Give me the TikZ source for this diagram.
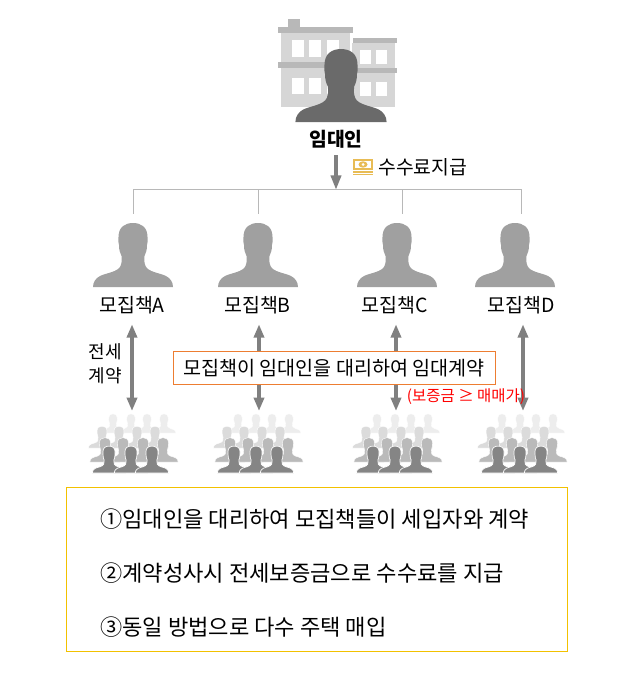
\documentclass[tikz,border=0pt]{standalone}
\usepackage{fontspec}
\setmainfont{Noto Sans CJK KR}
\usetikzlibrary{arrows.meta}
\definecolor{agentgray}{HTML}{A0A0A0}
\definecolor{ownergray}{HTML}{6A6A6A}
\definecolor{housegray}{HTML}{D6D6D6}
\definecolor{roofgray}{HTML}{B8B8B8}
\definecolor{boxorange}{HTML}{ED7D31}
\definecolor{boxyellow}{HTML}{F2C100}
\definecolor{moneygold}{HTML}{E8BC55}
\tikzset{
  person/.pic={
    \path[pic actions] (-40,0) .. controls (-40,-5) and (-37,-9) .. (-33,-11)
      .. controls (-27,-14) and (-15,-15) .. (-12.5,-21)
      .. controls (-11,-25) and (-11,-28) .. (-11.5,-31)
      .. controls (-13,-34) and (-14,-37) .. (-14,-42)
      .. controls (-15,-46) and (-14.5,-48) .. (-14.5,-50)
      .. controls (-14.5,-60) and (-8,-64) .. (0,-64)
      .. controls (8,-64) and (14.5,-60) .. (14.5,-50)
      .. controls (14.5,-48) and (15,-46) .. (14,-42)
      .. controls (14,-37) and (13,-34) .. (11.5,-31)
      .. controls (11,-28) and (11,-25) .. (12.5,-21)
      .. controls (15,-15) and (27,-14) .. (33,-11)
      .. controls (37,-9) and (40,-5) .. (40,0) -- cycle;
  },
  crowd/.pic={
    \foreach \x/\y in {-20/-40,-2/-40,14/-40,31/-40}
      \pic[fill=black!7,draw=white,line width=.3pt,scale=.3] at (\x,\y) {person};
    \foreach \x/\y in {-31/-25,-14/-25,4/-25,22/-25}
      \pic[fill=black!14,draw=white,line width=.3pt,scale=.34] at (\x,\y) {person};
    \foreach \x/\y in {-28/-11,-10/-11,10/-11,30/-11}
      \pic[fill=black!27,draw=white,line width=.3pt,scale=.38] at (\x,\y) {person};
    \foreach \x/\y in {-24/0,-2/0,19/0}
      \pic[fill=black!48,draw=white,line width=.5pt,scale=.42] at (\x,\y) {person};
  },
  agentlabel/.style={font=\fontsize{14.6}{16}\selectfont,minimum height=28.5pt,inner sep=0pt},
  bodytext/.style={font=\fontsize{16.6}{19}\selectfont,inner sep=0pt,anchor=west},
  busline/.style={draw=roofgray,line width=.7pt},
  contract/.style={draw=black!50,line width=3pt,{Triangle[length=10pt,width=7.5pt]}-{Triangle[length=10pt,width=7.5pt]}}
}
\begin{document}
\begin{tikzpicture}[x=0.75pt,y=-0.75pt]
  \useasboundingbox (0,0) rectangle (630,674);
  % building behind the owner
  \fill[housegray] (281,33) rectangle (350,107);
  \fill[housegray] (352,43) rectangle (395,107);
  \fill[roofgray] (288,19) rectangle (300,27);
  \fill[roofgray] (278,27) rectangle (353,33);
  \fill[roofgray] (278,62) rectangle (352,68);
  \fill[roofgray] (353,38) rectangle (397,43);
  \fill[roofgray] (352,68) rectangle (397,73);
  \foreach \x in {292,309,327} {
    \fill[white] (\x,40) rectangle +(12,17);
    \fill[white] (\x,78) rectangle +(12,16);
  }
  \foreach \x in {360,376} {
    \fill[white] (\x,50) rectangle +(11,14);
    \fill[white] (\x,82) rectangle +(11,14);
  }
  \pic[fill=ownergray,scale=1.14] (owner) at (341,122) {person};
  \node[font=\bfseries\fontsize{14.5}{16}\selectfont,inner sep=0pt] (ownerlabel) at (336,139) {임대인};
  % fee payment
  \coordinate (feetop) at (336,155);
  \coordinate (busmid) at (336,190);
  \draw[draw=black!50,line width=3pt,-{Triangle[length=11pt,width=7.5pt]}] (feetop) -- (busmid);
  \fill[moneygold] (353,159) rectangle (373,175);
  \fill[white] (355,161) rectangle (371,168);
  \fill[moneygold] (363,164.5) ellipse (4.5 and 3.2);
  \fill[white] (363,164.5) circle (1.5);
  \draw[white,line width=.4pt] (353,170.5) -- (373,170.5) (353,173) -- (373,173);
  \node[font=\fontsize{14.5}{17}\selectfont,inner sep=0pt,anchor=west] (feelabel) at (378,167) {수수료지급};
  % agents
  \coordinate (busA) at (133,189);
  \coordinate (busD) at (521,189);
  \draw[busline] (busA) -- (busD);
  \foreach \name/\x in {A/133,B/258,C/402,D/521} {
    \coordinate (drop\name) at (\x,189);
    \coordinate (top\name) at (\x,214);
    \draw[busline] (drop\name) -- (top\name);
  }
  \foreach \name/\x/\tx/\ax/\cx in {A/133/132/132/133,B/258/257.5/259/258,C/397/395/396/397,D/515/521/523/522} {
    \pic[fill=agentgray] (person\name) at (\x,287) {person};
    \node[agentlabel] (label\name) at (\tx,305) {모집책\name};
    \coordinate (crowdtop\name) at (\ax,411);
    \pic (crowd\name) at (\cx,473) {crowd};
    \draw[contract] (label\name.south -| crowdtop\name) -- (crowdtop\name);
  }
  \node[font=\fontsize{13.5}{18}\selectfont,align=center,inner sep=0pt] (leaselabel) at (105,364) {전세\\계약};
  \node[draw=boxorange,fill=white,line width=.7pt,minimum width=241.5pt,minimum height=24.5pt,inner sep=0pt,font=\fontsize{14.7}{16}\selectfont] (notebox) at (334,368) {모집책이 임대인을 대리하여 임대계약};
  \node[red,font=\fontsize{11.6}{13}\selectfont,inner sep=0pt] (ratiolabel) at (466,397) {(보증금 ≥ 매매가)};
  % summary box
  \node[draw=boxyellow,line width=.6pt,minimum width=376pt,minimum height=123pt,inner sep=0pt] (summary) at (317,569) {};
  \node[bodytext] (lineone) at (100,519) {①임대인을 대리하여 모집책들이 세입자와 계약};
  \node[bodytext] (linetwo) at (100,573) {②계약성사시 전세보증금으로 수수료를 지급};
  \node[bodytext] (linethree) at (100,627) {③동일 방법으로 다수 주택 매입};
\end{tikzpicture}
\end{document}
